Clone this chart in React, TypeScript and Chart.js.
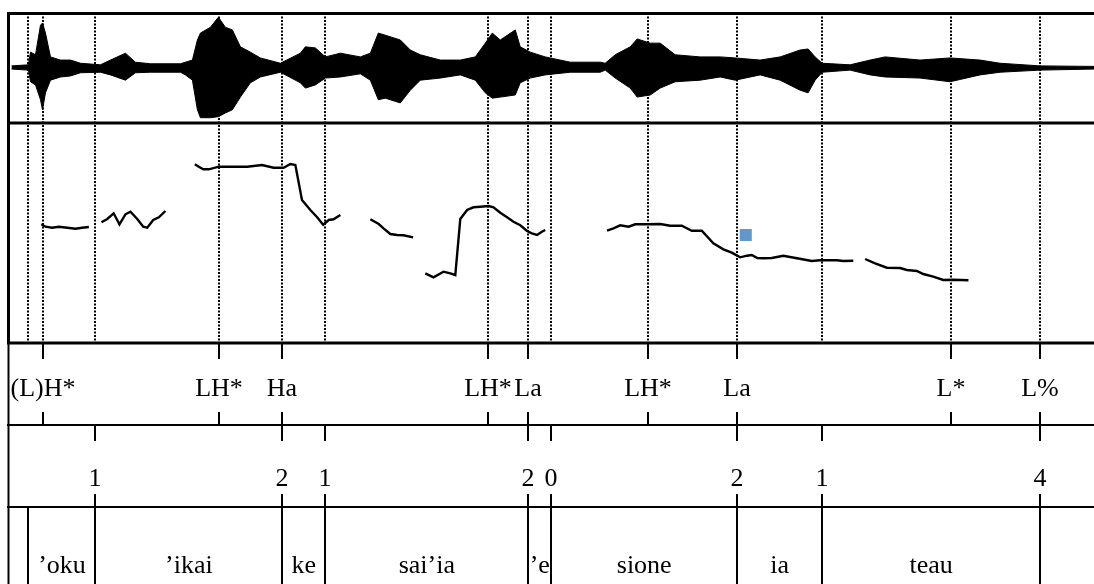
import React, { useEffect, useRef } from 'react';
import { Chart, registerables } from 'chart.js';

Chart.register(...registerables);

// ---------- DATA ----------
const DURATION = 2.73; // seconds shown

// waveform amplitude envelope (time in s, normalized amplitude)
const waveTimes = [
  0.0075, 0.05, 0.055, 0.0675, 0.08, 0.085, 0.0925, 0.105, 0.13, 0.155, 0.18, 0.23, 0.255, 0.2925, 0.3175,
  0.355, 0.43, 0.4425, 0.46, 0.4725, 0.48, 0.505, 0.525, 0.5425, 0.56, 0.58, 0.605, 0.63, 0.68, 0.73,
  0.7425, 0.7675, 0.7925, 0.83, 0.88, 0.905, 0.925, 0.9425, 0.98, 1.005, 1.03, 1.08, 1.13, 1.1675, 1.1925,
  1.21, 1.23, 1.2675, 1.28, 1.305, 1.3425, 1.405, 1.48, 1.4925, 1.5175, 1.555, 1.5725, 1.605, 1.63, 1.6675,
  1.73, 1.78, 1.8175, 1.88, 1.93, 1.98, 2.0, 2.0175, 2.035, 2.105, 2.155, 2.1925, 2.28, 2.355, 2.43,
  2.48, 2.58, 2.715,
];
const waveUpper = [
  0.04, 0.06, 0.30, 0.25, 0.81, 0.85, 0.66, 0.21, 0.15, 0.15, 0.09, 0.06, 0.15, 0.28, 0.11,
  0.08, 0.08, 0.11, 0.15, 0.53, 0.66, 0.77, 0.96, 0.77, 0.72, 0.40, 0.30, 0.19, 0.09, 0.28,
  0.40, 0.38, 0.21, 0.28, 0.21, 0.28, 0.66, 0.62, 0.53, 0.34, 0.25, 0.15, 0.15, 0.21, 0.47,
  0.66, 0.53, 0.72, 0.40, 0.30, 0.21, 0.11, 0.11, 0.09, 0.25, 0.40, 0.55, 0.47, 0.47, 0.25,
  0.21, 0.21, 0.19, 0.15, 0.21, 0.34, 0.36, 0.21, 0.09, 0.06, 0.15, 0.21, 0.15, 0.19, 0.15,
  0.09, 0.04, 0.03,
];
const waveLower = [
  -0.02, -0.04, -0.26, -0.32, -0.60, -0.79, -0.47, -0.23, -0.17, -0.15, -0.09, -0.08, -0.13, -0.23, -0.09,
  -0.08, -0.08, -0.13, -0.23, -0.79, -0.94, -0.94, -0.92, -0.85, -0.79, -0.55, -0.28, -0.17, -0.08, -0.28,
  -0.38, -0.32, -0.19, -0.17, -0.11, -0.23, -0.60, -0.57, -0.66, -0.42, -0.23, -0.19, -0.13, -0.23, -0.47,
  -0.57, -0.55, -0.51, -0.28, -0.19, -0.13, -0.08, -0.08, -0.04, -0.19, -0.38, -0.55, -0.51, -0.38, -0.26,
  -0.23, -0.17, -0.23, -0.13, -0.23, -0.42, -0.47, -0.23, -0.08, -0.04, -0.13, -0.17, -0.19, -0.26, -0.13,
  -0.08, -0.04, -0.02,
];

// pitch track [time s, F0 Hz]; null = unvoiced gap
const pitchTrack: Array<[number, number | null]> = [
  [0.082, 168.7], [0.0925, 166.3], [0.109, 165.3], [0.126, 166.3], [0.147, 165.3], [0.1675, 164.3], [0.184, 165.3], [0.201, 166],
  [0.215, null],
  [0.2325, 170.7], [0.247, 174], [0.263, 179.7], [0.2775, 168.7], [0.2925, 178.7], [0.305, 181.3], [0.322, 174], [0.337, 166.3],
  [0.347, 165.3], [0.362, 173], [0.376, 175.7], [0.3925, 182],
  [0.43, null],
  [0.466, 228.7], [0.476, 226.3], [0.487, 223.7], [0.501, 223.7], [0.526, 226.3], [0.555, 226.3], [0.597, 226.3], [0.634, 228],
  [0.663, 225.3], [0.688, 225.3], [0.705, 229], [0.7175, 228], [0.734, 193], [0.755, 183], [0.772, 175.7], [0.787, 168.3],
  [0.801, 173], [0.813, 173.7], [0.83, 178],
  [0.87, null],
  [0.905, 173.7], [0.926, 169], [0.938, 164.7], [0.955, 159], [0.972, 158], [0.988, 157.7], [1.012, 155.7],
  [1.03, null],
  [1.0425, 119.7], [1.063, 115.7], [1.088, 121.3], [1.105, 119.7], [1.1175, 118], [1.13, 174], [1.147, 183], [1.163, 185.7],
  [1.18, 186.3], [1.201, 187], [1.213, 185.7], [1.23, 180.3], [1.247, 175.7], [1.263, 171.3], [1.28, 167.7], [1.297, 162],
  [1.309, 159.7], [1.322, 158], [1.334, 161.3], [1.3425, 163],
  [1.42, null],
  [1.497, 162.3], [1.513, 164.7], [1.53, 167.7], [1.551, 166.3], [1.5675, 168.7], [1.601, 168.7], [1.63, 169], [1.655, 167.3],
  [1.684, 167.3], [1.709, 162.3], [1.734, 162.3], [1.763, 149.7], [1.788, 143.7], [1.809, 140.3], [1.83, 135.7], [1.847, 137.3],
  [1.859, 138], [1.873, 135], [1.888, 134.7], [1.909, 135], [1.938, 137.3], [1.972, 134.7], [2.009, 132], [2.03, 132.7],
  [2.072, 132.7], [2.088, 132], [2.113, 132.3],
  [2.125, null],
  [2.1425, 134], [2.1675, 129.7], [2.197, 125.3], [2.23, 125], [2.247, 123], [2.272, 122], [2.288, 119], [2.313, 116.3],
  [2.338, 113], [2.363, 113.3], [2.401, 112.7],
];

const markerTime = [1.844];
const markerHz = [158];

// tier 1: tones (point tier)
const toneTimes = [0.0875, 0.5275, 0.685, 1.2, 1.3, 1.6, 1.8225, 2.3575, 2.58];
const toneLabels = ['(L)H*', 'LH*', 'Ha', 'LH*', 'La', 'LH*', 'La', 'L*', 'L%'];

// tier 2: break indices (point tier)
const breakTimes = [0.2175, 0.685, 0.7925, 1.3, 1.3575, 1.8225, 2.035, 2.58];
const breakLabels = ['1', '2', '1', '2', '0', '2', '1', '4'];

// tier 3: words (interval tier)
const wordBounds = [0, 0.05, 0.2175, 0.685, 0.7925, 1.3, 1.3575, 1.8225, 2.035, 2.58, DURATION];
const wordLabels = ['', '\u2019oku', '\u2019ikai', 'ke', 'sai\u2019ia', '\u2019e', 'sione', 'ia', 'teau', ''];

const FONT = '26px "Liberation Serif", "Times New Roman", serif';

const textGridPlugin = {
  id: 'textgrid',
  beforeDatasetsDraw(chart: any) {
    const { ctx, scales } = chart;
    const xs = scales.x;
    const top = scales.yWave.top;
    const bottom = scales.yPitch.bottom;
    const marks = Array.from(new Set([...toneTimes, ...breakTimes, ...wordBounds.slice(1, -1)]));
    ctx.save();
    ctx.strokeStyle = '#000';
    ctx.lineWidth = 2;
    ctx.setLineDash([2, 1.5]);
    for (const t of marks) {
      const px = Math.round(xs.getPixelForValue(t));
      ctx.beginPath();
      ctx.moveTo(px, top);
      ctx.lineTo(px, bottom);
      ctx.stroke();
    }
    ctx.restore();
  },
  afterDatasetsDraw(chart: any) {
    const { ctx, scales, chartArea } = chart;
    const xs = scales.x;
    const left = chartArea.left;
    const right = chartArea.right;
    const sW = scales.yWave, sP = scales.yPitch, sT = scales.yTones, sB = scales.yBreaks, sWd = scales.yWords;
    ctx.save();
    ctx.strokeStyle = '#000';
    ctx.fillStyle = '#000';
    ctx.setLineDash([]);
    const hline = (y: number, w: number) => {
      ctx.lineWidth = w;
      ctx.beginPath();
      ctx.moveTo(left - 1.5, y);
      ctx.lineTo(right, y);
      ctx.stroke();
    };
    const vline = (x: number, y0: number, y1: number, w: number) => {
      ctx.lineWidth = w;
      ctx.beginPath();
      ctx.moveTo(x, y0);
      ctx.lineTo(x, y1);
      ctx.stroke();
    };
    // frame
    hline(sW.top + 0.5, 3);
    hline(sW.bottom, 3);
    hline(sP.bottom, 3);
    hline(sT.bottom, 2);
    hline(sB.bottom, 2);
    vline(left, sW.top - 1, sP.bottom, 3);
    vline(left, sP.bottom, sWd.bottom, 2);
    vline(right, sW.top - 1, sWd.bottom, 3);

    ctx.font = FONT;
    ctx.textAlign = 'center';
    ctx.textBaseline = 'alphabetic';

    // point tiers
    const pointTier = (scale: any, times: number[], labels: string[], baseOff: number) => {
      times.forEach((t, i) => {
        const px = Math.round(xs.getPixelForValue(t));
        vline(px, scale.top, scale.top + 16, 2);
        vline(px, scale.bottom - 13, scale.bottom, 2);
        ctx.fillText(labels[i], px, scale.top + baseOff);
      });
    };
    pointTier(sT, toneTimes, toneLabels, 53);
    pointTier(sB, breakTimes, breakLabels, 61);

    // interval tier
    wordBounds.forEach((t, i) => {
      if (i === 0 || i === wordBounds.length - 1) return;
      const px = Math.round(xs.getPixelForValue(t));
      vline(px, sWd.top, sWd.bottom, 2);
    });
    wordLabels.forEach((lab, i) => {
      if (!lab) return;
      const mid = xs.getPixelForValue((wordBounds[i] + wordBounds[i + 1]) / 2);
      ctx.fillText(lab, mid, sWd.top + 66);
    });
    ctx.restore();
  },
};

export default function App() {
  const canvasRef = useRef<HTMLCanvasElement | null>(null);

  useEffect(() => {
    const canvas = canvasRef.current;
    if (!canvas) return;
    const chart = new Chart(canvas, {
      type: 'line',
      data: {
        datasets: [
          {
            data: waveTimes.map((t, i) => ({ x: t, y: waveUpper[i] })),
            yAxisID: 'yWave',
            borderColor: '#000',
            backgroundColor: '#000',
            borderWidth: 1,
            pointRadius: 0,
            tension: 0,
            fill: '+1',
          },
          {
            data: waveTimes.map((t, i) => ({ x: t, y: waveLower[i] })),
            yAxisID: 'yWave',
            borderColor: '#000',
            borderWidth: 1,
            pointRadius: 0,
            tension: 0,
            fill: false,
          },
          {
            data: pitchTrack.map(([t, hz]) => ({ x: t, y: hz })),
            yAxisID: 'yPitch',
            borderColor: '#000',
            borderWidth: 2.4,
            pointRadius: 0,
            tension: 0,
            spanGaps: false,
            fill: false,
          },
          {
            type: 'scatter',
            data: markerTime.map((t, i) => ({ x: t, y: markerHz[i] })),
            yAxisID: 'yPitch',
            pointStyle: 'rect',
            pointRadius: 8.5,
            backgroundColor: '#6497c9',
            borderWidth: 0,
            showLine: false,
          } as any,
        ],
      },
      options: {
        animation: false,
        responsive: false,
        devicePixelRatio: 1,
        events: [],
        layout: { padding: { left: 8, top: 13, right: 10, bottom: 11 } },
        plugins: { legend: { display: false }, tooltip: { enabled: false } },
        scales: {
          x: { type: 'linear', min: 0, max: DURATION, display: false },
          // stacked axes: later-defined axes sit higher in the stack
          yWords: { type: 'linear', min: 0, max: 1, display: false, position: 'left', stack: 'tg', stackWeight: 82 },
          yBreaks: { type: 'linear', min: 0, max: 1, display: false, position: 'left', stack: 'tg', stackWeight: 82 },
          yTones: { type: 'linear', min: 0, max: 1, display: false, position: 'left', stack: 'tg', stackWeight: 82 },
          yPitch: { type: 'linear', min: 50, max: 270, display: false, position: 'left', stack: 'tg', stackWeight: 220 },
          yWave: { type: 'linear', min: -1.04, max: 1.04, display: false, position: 'left', stack: 'tg', stackWeight: 110 },
        } as any,
      },
      plugins: [textGridPlugin],
    });
    return () => chart.destroy();
  }, []);

  return (
    <div style={{ position: 'fixed', left: 0, top: 0, width: 1094, height: 584, overflow: 'hidden', background: '#fff' }}>
      <canvas ref={canvasRef} width={1110} height={600} style={{ display: 'block', width: 1110, height: 600 }} />
    </div>
  );
}
